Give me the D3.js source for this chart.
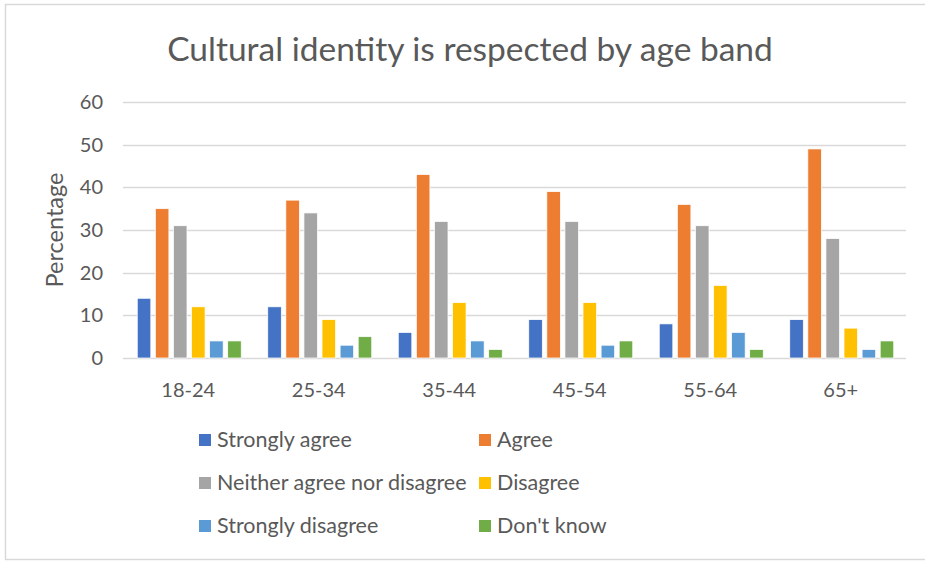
<!DOCTYPE html>
<html>
<head>
<meta charset="utf-8">
<script src="https://cdn.jsdelivr.net/npm/d3@7"></script>
<style>
  body { margin: 0; background: #fff; }
  svg { font-family: Lato, "Open Sans", sans-serif; }
</style>
</head>
<body>
<svg id="chart" width="925" height="561"></svg>
<script>
// data
var ageBands = ["18-24", "25-34", "35-44", "45-54", "55-64", "65+"];
var seriesNames = ["Strongly agree", "Agree", "Neither agree nor disagree", "Disagree", "Strongly disagree", "Don't know"];
var seriesColors = ["#4472c4", "#ed7d31", "#a5a5a5", "#ffc000", "#5b9bd5", "#70ad47"];
var stronglyAgree = [14, 12, 6, 9, 8, 9];
var agree = [35, 37, 43, 39, 36, 49];
var neither = [31, 34, 32, 32, 31, 28];
var disagree = [12, 9, 13, 13, 17, 7];
var stronglyDisagree = [4, 3, 4, 3, 6, 2];
var dontKnow = [4, 5, 2, 4, 2, 4];
var yTicks = [0, 10, 20, 30, 40, 50, 60];

var allSeries = [stronglyAgree, agree, neither, disagree, stronglyDisagree, dontKnow];

var svg = d3.select("#chart");
var textColor = "#595959";

// outer border (runs off the right edge like the original crop)
svg.append("rect").attr("x", 5.5).attr("y", 4.5).attr("width", 930).attr("height", 555)
  .attr("fill", "#fff").attr("stroke", "#d9d9d9").attr("stroke-width", 1.5);

// title
svg.append("text").attr("x", 470).attr("y", 61).attr("text-anchor", "middle")
  .attr("font-size", 33.5).attr("fill", textColor)
  .text("Cultural identity is respected by age band");

var plot = { left: 123, right: 906, top: 102, bottom: 358 };

var x = d3.scaleBand().domain(ageBands).range([plot.left, plot.right]).paddingInner(0).paddingOuter(0);
var xInner = d3.scaleBand().domain(d3.range(seriesNames.length)).range([0, 104]).paddingInner(0.25).paddingOuter(0);
var y = d3.scaleLinear().domain([0, 60]).range([plot.bottom, plot.top]);

// gridlines
svg.append("g").selectAll("line").data(yTicks).join("line")
  .attr("x1", plot.left).attr("x2", plot.right)
  .attr("y1", function(d) { return Math.round(y(d)) + 0.5; })
  .attr("y2", function(d) { return Math.round(y(d)) + 0.5; })
  .attr("stroke", "#d9d9d9").attr("stroke-width", 1.5);

// y tick labels
svg.append("g").selectAll("text").data(yTicks).join("text")
  .attr("x", 103).attr("y", function(d) { return y(d) + 7; })
  .attr("text-anchor", "end").attr("font-size", 20).attr("fill", textColor)
  .text(function(d) { return d; });

// y axis title
svg.append("text").attr("transform", "translate(63,230) rotate(-90)")
  .attr("text-anchor", "middle").attr("font-size", 23.5).attr("fill", textColor)
  .text("Percentage");

// bars
var groups = svg.append("g").selectAll("g").data(ageBands).join("g")
  .attr("transform", function(d) { return "translate(" + (x(d) + (x.bandwidth() - 104) / 2 + 1) + ",0)"; });

groups.selectAll("rect").data(function(d, i) {
    return allSeries.map(function(s, j) { return { k: j, v: s[i] }; });
  }).join("rect")
  .attr("x", function(d) { return xInner(d.k); })
  .attr("width", xInner.bandwidth())
  .attr("y", function(d) { return y(d.v); })
  .attr("height", function(d) { return y(0) - y(d.v); })
  .attr("fill", function(d) { return seriesColors[d.k]; })
  .attr("stroke", "#fff").attr("stroke-width", 0.75);

// x labels
svg.append("g").selectAll("text").data(ageBands).join("text")
  .attr("x", function(d) { return x(d) + x.bandwidth() / 2; })
  .attr("y", 397).attr("text-anchor", "middle").attr("font-size", 20).attr("fill", textColor)
  .text(function(d) { return d; });

// legend, two columns
var legend = svg.append("g").selectAll("g").data(seriesNames).join("g")
  .attr("transform", function(d, i) {
    return "translate(" + (i % 2 === 0 ? 199 : 479) + "," + (434 + Math.floor(i / 2) * 43) + ")";
  });
legend.append("rect").attr("width", 12).attr("height", 12)
  .attr("fill", function(d, i) { return seriesColors[i]; });
legend.append("text").attr("x", 18).attr("y", 13).attr("font-size", 21.5).attr("fill", textColor)
  .text(function(d) { return d; });
</script>
</body>
</html>
